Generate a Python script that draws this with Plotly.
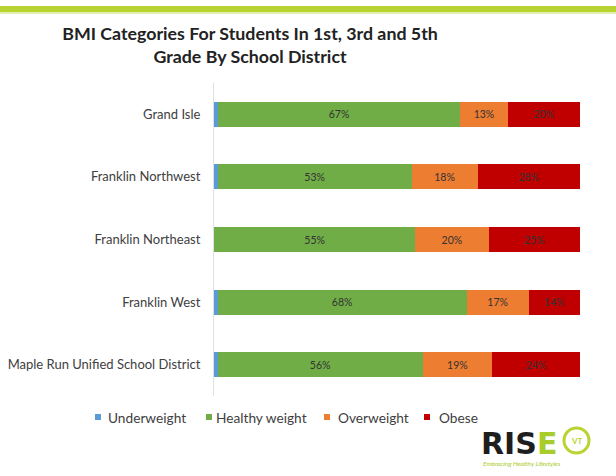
import plotly.graph_objects as go

# School districts, top to bottom
districts = [
    "Grand Isle",
    "Franklin Northwest",
    "Franklin Northeast",
    "Franklin West",
    "Maple Run Unified School District",
]

# Share of students in each BMI category (%)
underweight = [1, 1, 0, 1, 1]
healthy = [67, 53, 55, 68, 56]
overweight = [13, 18, 20, 17, 19]
obese = [20, 28, 25, 14, 24]

categories = ["Underweight", "Healthy weight", "Overweight", "Obese"]
colors = ["#5b9bd5", "#70ad47", "#ed7d31", "#c00000"]
values = [underweight, healthy, overweight, obese]
labelled = [False, True, True, True]

W, H = 616, 476
ML, MR, MT, MB = 214, 36, 83, 80
PW, PH = W - ML - MR, H - MT - MB


def px_x(x):
    return (x - ML) / PW


def px_y(y):
    return (H - MB - y) / PH


FONT = "Lato, 'Open Sans', sans-serif"

fig = go.Figure()
for name, vals, color, lab in zip(categories, values, colors, labelled):
    fig.add_trace(go.Bar(
        name=name,
        y=districts,
        x=vals,
        orientation="h",
        marker=dict(color=color, line=dict(width=0)),
        text=[f"{v}%" for v in vals] if lab else None,
        textposition="inside" if lab else "none",
        insidetextanchor="middle",
        textfont=dict(family=FONT, size=10.5, color="#333333"),
        hoverinfo="name+x",
        showlegend=False,
    ))

fig.update_layout(
    width=W, height=H,
    barmode="stack",
    barnorm="percent",
    bargap=0.6,
    margin=dict(l=ML, r=MR, t=MT, b=MB, autoexpand=False),
    paper_bgcolor="white",
    plot_bgcolor="white",
    font=dict(family=FONT, color="#404040"),
    title=dict(
        text="<b>BMI Categories For Students In 1st, 3rd and 5th<br>Grade By School District</b>",
        x=250 / W, xanchor="center",
        y=1 - 40 / H, yanchor="top",
        font=dict(family=FONT, size=17.8, color="#222222"),
    ),
    xaxis=dict(range=[0, 100], visible=False, fixedrange=True, automargin=False),
    yaxis=dict(
        autorange="reversed",
        automargin=False,
        showline=True, linecolor="#e0e0e0", linewidth=1,
        showgrid=False, ticks="", ticklen=0,
        tickfont=dict(family=FONT, size=13, color="#404040"),
        ticksuffix="   ",
    ),
    showlegend=False,
)

# Legend row: swatch left edge and label left edge for each category
legend_swatch_x = [95, 206, 324, 424]
legend_text_x = [106, 214, 336, 437]
LEGEND_Y = 417
SW = 6
for name, color, sx, tx in zip(categories, colors, legend_swatch_x, legend_text_x):
    fig.add_shape(
        type="rect", xref="paper", yref="paper",
        x0=px_x(sx), x1=px_x(sx + SW),
        y0=px_y(LEGEND_Y + SW / 2), y1=px_y(LEGEND_Y - SW / 2),
        fillcolor=color, line=dict(width=0),
    )
    fig.add_annotation(
        xref="paper", yref="paper", x=px_x(tx), y=px_y(LEGEND_Y),
        text=name, showarrow=False, xanchor="left", yanchor="middle",
        font=dict(family=FONT, size=13.7, color="#404040"),
    )

# Lime accent line across the top
fig.add_shape(
    type="rect", xref="paper", yref="paper",
    x0=px_x(0), x1=px_x(W), y0=px_y(12), y1=px_y(6),
    fillcolor="#b7d433", line=dict(width=0), layer="above",
)
fig.add_shape(
    type="rect", xref="paper", yref="paper",
    x0=px_x(0), x1=px_x(W), y0=px_y(14), y1=px_y(12),
    fillcolor="#e3efb0", line=dict(width=0), layer="above",
)

# RISE VT logo
fig.add_annotation(
    xref="paper", yref="paper", x=px_x(519), y=px_y(443),
    text="<b><span style='color:#1e1e1e'>RIS</span><span style='color:#a8cc2a'>E</span></b>",
    showarrow=False, xanchor="center", yanchor="middle",
    font=dict(family="'DejaVu Sans', sans-serif", size=30),
)
fig.add_shape(
    type="circle", xref="paper", yref="paper",
    x0=px_x(564), x1=px_x(589), y0=px_y(453), y1=px_y(428),
    line=dict(color="#b7d433", width=3), fillcolor="rgba(0,0,0,0)",
)
fig.add_annotation(
    xref="paper", yref="paper", x=px_x(576.5), y=px_y(440.5),
    text="<b>VT</b>", showarrow=False, xanchor="center", yanchor="middle",
    font=dict(family=FONT, size=8, color="#b7d433"),
)
fig.add_annotation(
    xref="paper", yref="paper", x=px_x(522), y=px_y(463),
    text="<i>Embracing Healthy Lifestyles</i>", showarrow=False,
    xanchor="center", yanchor="middle",
    font=dict(family=FONT, size=6.5, color="#a8cc2a"),
)

fig.write_html("out.html")
